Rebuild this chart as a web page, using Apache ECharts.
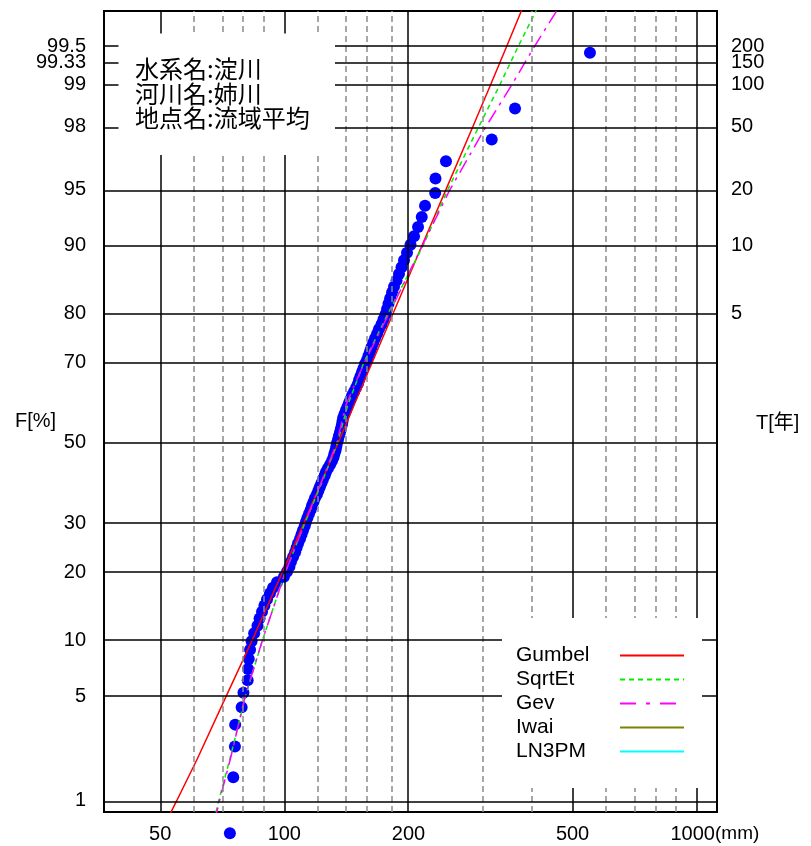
<!DOCTYPE html>
<html>
<head>
<meta charset="utf-8">
<script src="https://cdn.jsdelivr.net/npm/echarts@6/dist/echarts.min.js"></script>
<style>html,body{margin:0;padding:0;background:#fff}#c{width:811px;height:846px}</style>
</head>
<body>
<div id="c"></div>
<script>
// ---------- data ----------
// observed annual maxima [mm], sorted ascending
const obsMM = [73.8, 75.2, 75.9, 76.0, 78.8, 79.6, 81.5, 81.7, 82.0, 82.6,
  83.3, 84.5, 86.1, 87.1, 88.3, 89.5, 90.8, 92.3, 93.9, 96.0,
  99.8, 101.5, 102.9, 103.8, 105.0, 106.2, 107.1, 108.0, 109.2, 110.1,
  111.0, 112.1, 112.9, 113.8, 114.8, 115.9, 116.7, 117.7, 118.7, 120.0,
  121.0, 122.0, 123.1, 124.1, 125.3, 126.2, 127.6, 129.1, 130.5, 131.6,
  132.3, 133.1, 133.7, 134.2, 135.0, 135.7, 136.5, 137.2, 137.9, 138.4,
  138.9, 140.0, 141.1, 142.3, 143.5, 144.7, 146.0, 147.6, 149.3, 150.8,
  151.8, 153.0, 154.3, 155.6, 156.9, 158.7, 160.0, 161.4, 162.7, 164.3,
  166.0, 167.9, 169.7, 172.1, 174.0, 176.0, 177.5, 178.9, 180.6, 182.5,
  184.5, 187.1, 189.7, 192.4, 195.1, 198.4, 202.3, 206.3, 211.0, 215.4,
  219.4, 232.2, 232.6, 246.6, 318.4, 362.6, 551.0];
// plotting positions [%]
const obsF = [0.56, 1.49, 2.43, 3.36, 4.29, 5.22, 6.16, 7.09, 8.02, 8.96,
  9.89, 10.82, 11.75, 12.69, 13.62, 14.55, 15.49, 16.42, 17.35, 18.28,
  19.22, 20.15, 21.08, 22.01, 22.95, 23.88, 24.81, 25.75, 26.68, 27.61,
  28.54, 29.48, 30.41, 31.34, 32.28, 33.21, 34.14, 35.07, 36.01, 36.94,
  37.87, 38.81, 39.74, 40.67, 41.60, 42.54, 43.47, 44.40, 45.34, 46.27,
  47.20, 48.13, 49.07, 50.00, 50.93, 51.87, 52.80, 53.73, 54.66, 55.60,
  56.53, 57.46, 58.40, 59.33, 60.26, 61.19, 62.13, 63.06, 63.99, 64.93,
  65.86, 66.79, 67.72, 68.66, 69.59, 70.52, 71.46, 72.39, 73.32, 74.25,
  75.19, 76.12, 77.05, 77.99, 78.92, 79.85, 80.78, 81.72, 82.65, 83.58,
  84.51, 85.45, 86.38, 87.31, 88.25, 89.18, 90.11, 91.04, 91.98, 92.91,
  93.84, 94.78, 95.71, 96.64, 97.57, 98.51, 99.44];

// fitted distributions: x [mm] at probability levels [%]
const curveF    = [0.7, 1, 2, 5, 10, 20, 30, 40, 50, 60, 70, 80, 90, 95, 98, 99, 99.5, 99.8, 99.9];
const gumbelMM  = [51.8, 54.8, 61.5, 72.3, 83.6, 98.9, 111.4, 123.0, 135.0, 148.0, 163.4, 183.5, 215.6, 246.4, 286.3, 316.2, 346.0, 385.2, 414.9];
const sqrtEtMM  = [67.5, 69.3, 73.8, 80.5, 88.5, 100.5, 112.0, 123.5, 134.5, 142.8, 156.0, 178.5, 217.0, 249.0, 296.0, 333.0, 369.0, 420.0, 460.0];
const gevMM     = [67.8, 69.6, 74.0, 80.4, 88.5, 100.5, 112.0, 123.0, 134.0, 141.4, 156.5, 179.5, 216.0, 252.0, 308.0, 356.0, 404.0, 475.0, 530.0];

// axes / ticks
const yLabelF   = [1, 5, 10, 20, 30, 50, 70, 80, 90, 95, 98, 99, 99.33, 99.5];
const yLabelTxt = ['1', '5', '10', '20', '30', '50', '70', '80', '90', '95', '98', '99', '99.33', '99.5'];
const tLabels   = [5, 10, 20, 50, 100, 150, 200];
const xMajorMM  = [50, 100, 200, 500, 1000];
const xMinorMM  = [60, 70, 80, 90, 120, 140, 160, 180, 300, 400, 600, 700, 800, 900];
const X_MIN_MM = 36.54, X_MAX_MM = 1120;
const Y_MIN_F = 0.824, Y_MAX_F = 99.75;

const legendNames = ['Gumbel', 'SqrtEt', 'Gev', 'Iwai', 'LN3PM'];
const legendColors = ['#ff0000', '#00ee00', '#ff00ff', '#808000', '#00ffff'];
const legendDash = [null, [5, 4], [16, 10, 4, 10], null, null];

// ---------- scales ----------
function probit(p) {
  const a = [-3.969683028665376e+01, 2.209460984245205e+02, -2.759285104469687e+02, 1.383577518672690e+02, -3.066479806614716e+01, 2.506628277459239e+00];
  const b = [-5.447609879822406e+01, 1.615858368580409e+02, -1.556989798598866e+02, 6.680131188771972e+01, -1.328068155288572e+01];
  const c = [-7.784894002430293e-03, -3.223964580411365e-01, -2.400758277161838e+00, -2.549732539343734e+00, 4.374664141464968e+00, 2.938163982698783e+00];
  const d = [7.784695709041462e-03, 3.224671290700398e-01, 2.445134137142996e+00, 3.754408661907416e+00];
  const pl = 0.02425, ph = 1 - pl;
  let q, r;
  if (p < pl) {
    q = Math.sqrt(-2 * Math.log(p));
    return (((((c[0]*q+c[1])*q+c[2])*q+c[3])*q+c[4])*q+c[5]) / ((((d[0]*q+d[1])*q+d[2])*q+d[3])*q+1);
  }
  if (p <= ph) {
    q = p - 0.5; r = q * q;
    return (((((a[0]*r+a[1])*r+a[2])*r+a[3])*r+a[4])*r+a[5])*q / (((((b[0]*r+b[1])*r+b[2])*r+b[3])*r+b[4])*r+1);
  }
  q = Math.sqrt(-2 * Math.log(1 - p));
  return -(((((c[0]*q+c[1])*q+c[2])*q+c[3])*q+c[4])*q+c[5]) / ((((d[0]*q+d[1])*q+d[2])*q+d[3])*q+1);
}
const lg = v => Math.log10(v);
const zf = f => probit(f / 100);

function nearestLabel(v, vals, txts) {
  let best = 0, bd = Infinity;
  vals.forEach((x, i) => { const dd = Math.abs(x - v); if (dd < bd) { bd = dd; best = i; } });
  return txts[best];
}

const yVals = yLabelF.map(zf);
const tVals = tLabels.map(t => zf(100 - 100 / t));
const tTxt = tLabels.map(String);
// the crowded top labels are placed on their own axes so none is hidden
const leftMain = yVals.slice(0, -1), leftMainTxt = yLabelTxt.slice(0, -1);
const leftTop = yVals.slice(-1), leftTopTxt = yLabelTxt.slice(-1);
const rightMain = tVals.slice(0, -1), rightMainTxt = tTxt.slice(0, -1);
const rightTop = tVals.slice(-1), rightTopTxt = tTxt.slice(-1);

const gridMarks = [];
xMinorMM.forEach(v => gridMarks.push({ xAxis: lg(v), lineStyle: { color: '#8a8a8a', width: 1.5, type: [6, 4] } }));
xMajorMM.forEach(v => gridMarks.push({ xAxis: lg(v), lineStyle: { color: '#000', width: 1.5, type: 'solid' } }));
yLabelF.forEach(f => gridMarks.push({ yAxis: zf(f), lineStyle: { color: '#000', width: 1.5, type: 'solid' } }));

const curve = (mm) => curveF.map((f, i) => [lg(mm[i]), zf(f)]);

const labelFont = { fontSize: 20, fontFamily: 'Liberation Sans', color: '#000', hideOverlap: false };

const graphics = [
  { type: 'rect', z: 100, shape: { x: 118.5, y: 33.5, width: 216.5, height: 121.5 }, style: { fill: '#fff' } },
  { type: 'text', z: 101, x: 135, y: 57, style: { text: '水系名:淀川\n河川名:姉川\n地点名:流域平均', fontSize: 24, fontFamily: '"Noto Sans CJK JP"', fill: '#000', lineHeight: 24.5, align: 'left', verticalAlign: 'top' } },
  { type: 'rect', z: 100, shape: { x: 502, y: 618, width: 200, height: 170 }, style: { fill: '#fff' } },
  { type: 'text', z: 101, x: 15, y: 421, style: { text: 'F[%]', fontSize: 20, fontFamily: 'Liberation Sans', fill: '#000', align: 'left', verticalAlign: 'middle' } },
  { type: 'text', z: 101, x: 756, y: 423, style: { text: 'T[年]', fontSize: 20, fontFamily: 'Liberation Sans, "Noto Sans CJK JP"', fill: '#000', align: 'left', verticalAlign: 'middle' } },
  { type: 'text', z: 101, x: 715, y: 834, style: { text: '(mm)', fontSize: 19, fontFamily: 'Liberation Sans', fill: '#000', align: 'left', verticalAlign: 'middle' } }
];
legendNames.forEach((n, i) => {
  const y = 655.5 + i * 24;
  graphics.push({ type: 'text', z: 101, x: 516, y: y, style: { text: n, fontSize: 21, fontFamily: 'Liberation Sans', fill: '#000', align: 'left', verticalAlign: 'middle' } });
  graphics.push({ type: 'line', z: 101, shape: { x1: 620, y1: y, x2: 684, y2: y }, style: { stroke: legendColors[i], lineWidth: 2, lineDash: legendDash[i] } });
});

function yAx(pos, vals, txts, margin) {
  return {
    type: 'value', position: pos, offset: 0, min: zf(Y_MIN_F), max: zf(Y_MAX_F),
    axisLine: { show: false }, axisTick: { show: false }, splitLine: { show: false },
    axisLabel: Object.assign({ customValues: vals, margin: margin, formatter: v => nearestLabel(v, vals, txts) }, labelFont)
  };
}

const option = {
  animation: false,
  backgroundColor: '#fff',
  grid: { left: 104, top: 11, width: 613, height: 801, show: true, borderColor: '#000', borderWidth: 2, backgroundColor: 'transparent' },
  xAxis: {
    type: 'value', min: lg(X_MIN_MM), max: lg(X_MAX_MM),
    axisLine: { show: false }, axisTick: { show: false }, splitLine: { show: false },
    axisLabel: Object.assign({
      customValues: xMajorMM.map(lg), margin: 12,
      formatter: v => { const n = Math.round(Math.pow(10, v)); return n === 1000 ? '{k|1000}' : String(n); },
      rich: { k: { fontSize: 20, fontFamily: 'Liberation Sans', color: '#000', padding: [0, 8, 0, 0] } }
    }, labelFont)
  },
  yAxis: [
    yAx('left', leftMain, leftMainTxt, 18),
    yAx('right', rightMain, rightMainTxt, 14),
    yAx('left', leftTop, leftTopTxt, 18),
    yAx('right', rightTop, rightTopTxt, 14)
  ],
  graphic: graphics,
  series: [
    {
      name: 'grid', type: 'line', data: [], z: 1, silent: true,
      markLine: { silent: true, symbol: ['none', 'none'], label: { show: false }, animation: false, emphasis: { disabled: true }, data: gridMarks }
    },
    {
      name: 'obs', type: 'scatter', z: 2, clip: false, symbol: 'circle', symbolSize: 12,
      itemStyle: { color: '#0000ff', opacity: 1 },
      data: obsMM.map((v, i) => [lg(v), zf(obsF[i])])
    },
    { name: 'Gumbel', type: 'line', z: 3, showSymbol: false, symbol: 'none', data: curve(gumbelMM), lineStyle: { color: '#ff0000', width: 1.5 } },
    { name: 'SqrtEt', type: 'line', z: 3, showSymbol: false, symbol: 'none', data: curve(sqrtEtMM), lineStyle: { color: '#00ee00', width: 1.5, type: [5, 4] } },
    { name: 'Gev', type: 'line', z: 3, showSymbol: false, symbol: 'none', data: curve(gevMM), lineStyle: { color: '#ff00ff', width: 1.5, type: [14, 6, 3, 6] } }
  ]
};
const chart = echarts.init(document.getElementById('c'), null, { renderer: 'canvas' });
chart.setOption(option);
</script>
</body>
</html>
